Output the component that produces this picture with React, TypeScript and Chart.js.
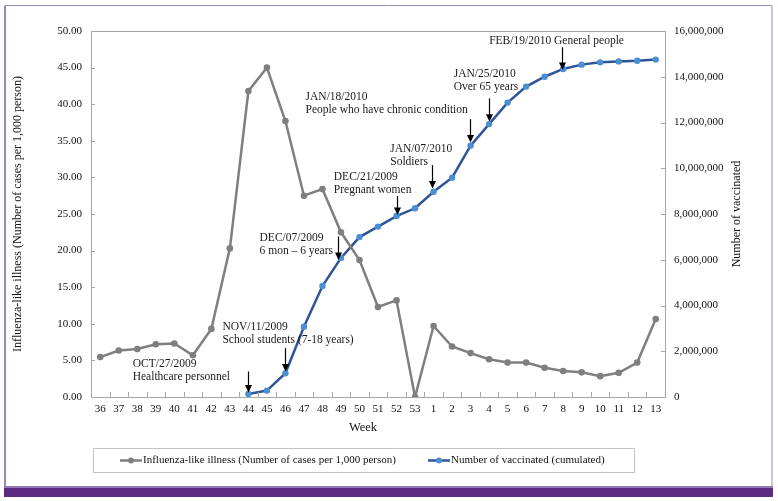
import React, { useEffect, useRef } from "react";
import { Chart, registerables } from "chart.js";

Chart.register(...registerables);

const weeks = ["36","37","38","39","40","41","42","43","44","45","46","47","48","49","50","51","52","53","1","2","3","4","5","6","7","8","9","10","11","12","13"];

const iliValues = [5.45, 6.35, 6.55, 7.2, 7.3, 5.7, 9.3, 20.3, 41.8, 45.0, 37.7, 27.5, 28.4, 22.5, 18.7, 12.3, 13.2, 0, 9.7, 6.9, 6.0, 5.15, 4.7, 4.7, 4.0, 3.55, 3.37, 2.85, 3.3, 4.7, 10.65];

const vaccinatedValues = [null, null, null, null, null, null, null, null, 130000, 280000, 1040000, 3070000, 4850000, 6080000, 6990000, 7450000, 7910000, 8250000, 8970000, 9590000, 10990000, 11930000, 12870000, 13570000, 14000000, 14340000, 14530000, 14630000, 14670000, 14700000, 14750000];

const iliLabel = "Influenza-like illness (Number of cases per 1,000 person)";
const vacLabel = "Number of vaccinated (cumulated)";
const leftTitle = "Influenza-like illness (Number of cases per 1,000 person)";
const rightTitle = "Number of vaccinated";
const xTitle = "Week";

// annotation week labels and texts
const noteWeeks = ["44", "46", "49", "52", "1", "3", "4", "8"];
const noteTexts = [
  ["OCT/27/2009", "Healthcare personnel"],
  ["NOV/11/2009", "School students (7-18 years)"],
  ["DEC/07/2009", "6 mon \u2013 6 years"],
  ["DEC/21/2009", "Pregnant women"],
  ["JAN/07/2010", "Soldiers"],
  ["JAN/18/2010", "People who have chronic condition"],
  ["JAN/25/2010", "Over 65 years"],
  ["FEB/19/2010 General people"],
];
// layout offsets (relative to the data point): arrow dx, arrow gap, arrow length, text dx, text dy
const noteLayout = [
  { adx: 0, gap: 1.5, len: 21, tdx: -115.7, tdy: -30 },
  { adx: 0, gap: 1.6, len: 23.5, tdx: -63, tdy: -46 },
  { adx: -3.4, gap: -2, len: 23.5, tdx: -81.4, tdy: -19.7 },
  { adx: 0, gap: 1, len: 19, tdx: -62.7, tdy: -39.3 },
  { adx: -1.6, gap: 3.4, len: 23.3, tdx: -43.3, tdy: -42.4 },
  { adx: -0.7, gap: 3, len: 23.4, tdx: -165, tdy: -48.4 },
  { adx: -0.4, gap: 2.3, len: 23.4, tdx: -35.4, tdy: -49.7 },
  { adx: -1, gap: -1, len: 22.7, tdx: -74, tdy: -28.3 },
];

const GRAY = "#7f7f7f";
const BLUE_LINE = "#2f5597";
const BLUE_PT = "#4a8ed4";
const AXIS = "#a6a6a6";
const FONT = '"Liberation Serif", "Times New Roman", serif';

const decor = {
  id: "decor",
  beforeDraw(chart: any) {
    const { ctx, width, height } = chart;
    ctx.save();
    ctx.fillStyle = "#ffffff";
    ctx.fillRect(0, 0, width, height);
    // purple frame
    ctx.strokeStyle = "#9a88b9";
    ctx.lineWidth = 1;
    ctx.beginPath();
    ctx.moveTo(5, 487);
    ctx.lineTo(5, 5.5);
    ctx.lineTo(772, 5.5);
    ctx.lineTo(772, 487);
    ctx.stroke();
    ctx.lineWidth = 2;
    ctx.beginPath();
    ctx.moveTo(5, 487);
    ctx.lineTo(5, 6);
    ctx.stroke();
    ctx.fillStyle = "#8f7ab3";
    ctx.fillRect(4, 486, 769, 2);
    ctx.fillStyle = "#5b2b82";
    ctx.fillRect(4, 488, 769, 9);
    ctx.restore();
  },
  afterDraw(chart: any) {
    const { ctx, chartArea } = chart;
    const xs = chart.scales.x;
    const yl = chart.scales.y;
    const yr = chart.scales.y1;
    ctx.save();
    // top frame line
    ctx.strokeStyle = AXIS;
    ctx.lineWidth = 1;
    ctx.beginPath();
    ctx.moveTo(chartArea.left, chartArea.top + 0.5);
    ctx.lineTo(chartArea.right, chartArea.top + 0.5);
    ctx.stroke();
    // x inner ticks at category boundaries
    const step = xs.getPixelForValue(1) - xs.getPixelForValue(0);
    ctx.beginPath();
    for (let i = 0; i <= weeks.length; i++) {
      const x = Math.round(xs.getPixelForValue(i) - step / 2) + 0.5;
      ctx.moveTo(x, chartArea.bottom);
      ctx.lineTo(x, chartArea.bottom - 5);
    }
    // left ticks
    yl.ticks.forEach((t: any) => {
      const y = Math.round(yl.getPixelForValue(t.value)) + 0.5;
      ctx.moveTo(chartArea.left, y);
      ctx.lineTo(chartArea.left + 4, y);
    });
    yr.ticks.forEach((t: any) => {
      const y = Math.round(yr.getPixelForValue(t.value)) + 0.5;
      ctx.moveTo(chartArea.right, y);
      ctx.lineTo(chartArea.right - 4, y);
    });
    ctx.stroke();

    // axis titles
    ctx.fillStyle = "#111";
    ctx.font = `12px ${FONT}`;
    ctx.textAlign = "center";
    ctx.textBaseline = "middle";
    const midY = (chartArea.top + chartArea.bottom) / 2;
    ctx.save();
    ctx.translate(18, midY);
    ctx.rotate(-Math.PI / 2);
    ctx.fillText(leftTitle, 0, 0);
    ctx.restore();
    ctx.save();
    ctx.translate(737, midY);
    ctx.rotate(-Math.PI / 2);
    ctx.fillText(rightTitle, 0, 0);
    ctx.restore();
    ctx.font = `12.5px ${FONT}`;
    ctx.fillText(xTitle, (chartArea.left + chartArea.right) / 2 - 15, 428);

    // legend
    ctx.strokeStyle = "#c4c4c4";
    ctx.lineWidth = 1;
    ctx.strokeRect(93.5, 448.5, 541, 24);
    const ly = 460.5;
    const drawItem = (x0: number, color: string, ptColor: string, text: string) => {
      ctx.strokeStyle = color;
      ctx.lineWidth = 2.5;
      ctx.beginPath();
      ctx.moveTo(x0, ly);
      ctx.lineTo(x0 + 22, ly);
      ctx.stroke();
      ctx.fillStyle = ptColor;
      ctx.beginPath();
      ctx.arc(x0 + 11, ly, 3, 0, Math.PI * 2);
      ctx.fill();
      ctx.fillStyle = "#111";
      ctx.font = `11px ${FONT}`;
      ctx.textAlign = "left";
      ctx.textBaseline = "middle";
      ctx.fillText(text, x0 + 23, ly);
    };
    drawItem(120, GRAY, GRAY, iliLabel);
    drawItem(428, BLUE_LINE, BLUE_PT, vacLabel);

    // annotations
    noteWeeks.forEach((wk, k) => {
      const idx = weeks.indexOf(wk);
      const px = xs.getPixelForValue(idx);
      const py = yr.getPixelForValue(vaccinatedValues[idx] as number);
      const L = noteLayout[k];
      const ax = Math.round(px + L.adx) + 0.5;
      const tip = py - L.gap;
      const tail = tip - L.len;
      ctx.strokeStyle = "#000";
      ctx.fillStyle = "#000";
      ctx.lineWidth = 1.2;
      ctx.beginPath();
      ctx.moveTo(ax, tail);
      ctx.lineTo(ax, tip - 6);
      ctx.stroke();
      ctx.beginPath();
      ctx.moveTo(ax - 3.5, tip - 7.5);
      ctx.lineTo(ax + 3.5, tip - 7.5);
      ctx.lineTo(ax, tip);
      ctx.closePath();
      ctx.fill();
      ctx.fillStyle = "#1a1a1a";
      ctx.font = `11.5px ${FONT}`;
      ctx.textAlign = "left";
      ctx.textBaseline = "middle";
      noteTexts[k].forEach((line, j) => {
        ctx.fillText(line, px + L.tdx, py + L.tdy + j * 12.8);
      });
    });
    ctx.restore();
  },
};

export default function App() {
  const ref = useRef<HTMLCanvasElement | null>(null);
  useEffect(() => {
    if (!ref.current) return;
    const chart = new Chart(ref.current, {
      type: "line",
      data: {
        labels: weeks,
        datasets: [
          {
            label: iliLabel,
            data: iliValues,
            yAxisID: "y",
            borderColor: GRAY,
            backgroundColor: GRAY,
            pointBackgroundColor: GRAY,
            pointBorderColor: GRAY,
            borderWidth: 2.5,
            pointRadius: 3.3,
            pointBorderWidth: 0,
            tension: 0,
          },
          {
            label: vacLabel,
            data: vaccinatedValues,
            yAxisID: "y1",
            borderColor: BLUE_LINE,
            backgroundColor: BLUE_PT,
            pointBackgroundColor: BLUE_PT,
            pointBorderColor: BLUE_PT,
            borderWidth: 2.5,
            pointRadius: 3.2,
            pointBorderWidth: 0,
            tension: 0,
            spanGaps: false,
          },
        ],
      },
      options: {
        responsive: false,
        animation: false,
        layout: { padding: { top: 31, left: 0, right: 0, bottom: 0 } },
        plugins: { legend: { display: false }, tooltip: { enabled: false } },
        scales: {
          x: {
            type: "category",
            offset: true,
            grid: { display: false, drawTicks: false },
            border: { display: true, color: AXIS, width: 1 },
            ticks: {
              color: "#111",
              font: { family: FONT, size: 11 },
              padding: 6,
              maxRotation: 0,
              autoSkip: false,
            },
            afterFit: (s: any) => { s.height = 104; },
          },
          y: {
            position: "left",
            min: 0,
            max: 50,
            grid: { display: false, drawTicks: false },
            border: { display: true, color: AXIS, width: 1 },
            ticks: {
              stepSize: 5,
              color: "#111",
              font: { family: FONT, size: 11 },
              padding: 9,
              callback: (v: any) => Number(v).toFixed(2),
            },
            afterFit: (s: any) => { s.width = 91; },
          },
          y1: {
            position: "right",
            min: 0,
            max: 16000000,
            grid: { display: false, drawTicks: false },
            border: { display: true, color: AXIS, width: 1 },
            ticks: {
              stepSize: 2000000,
              color: "#111",
              font: { family: FONT, size: 11 },
              padding: 9,
              callback: (v: any) => Number(v).toLocaleString("en-US"),
            },
            afterFit: (s: any) => { s.width = 113; },
          },
        },
      },
      plugins: [decor],
    });
    return () => chart.destroy();
  }, []);
  return (
    <div style={{ position: "absolute", left: 0, top: 0, width: 778, height: 501 }}>
      <canvas ref={ref} width={778} height={501} style={{ width: 778, height: 501, display: "block" }} />
    </div>
  );
}
